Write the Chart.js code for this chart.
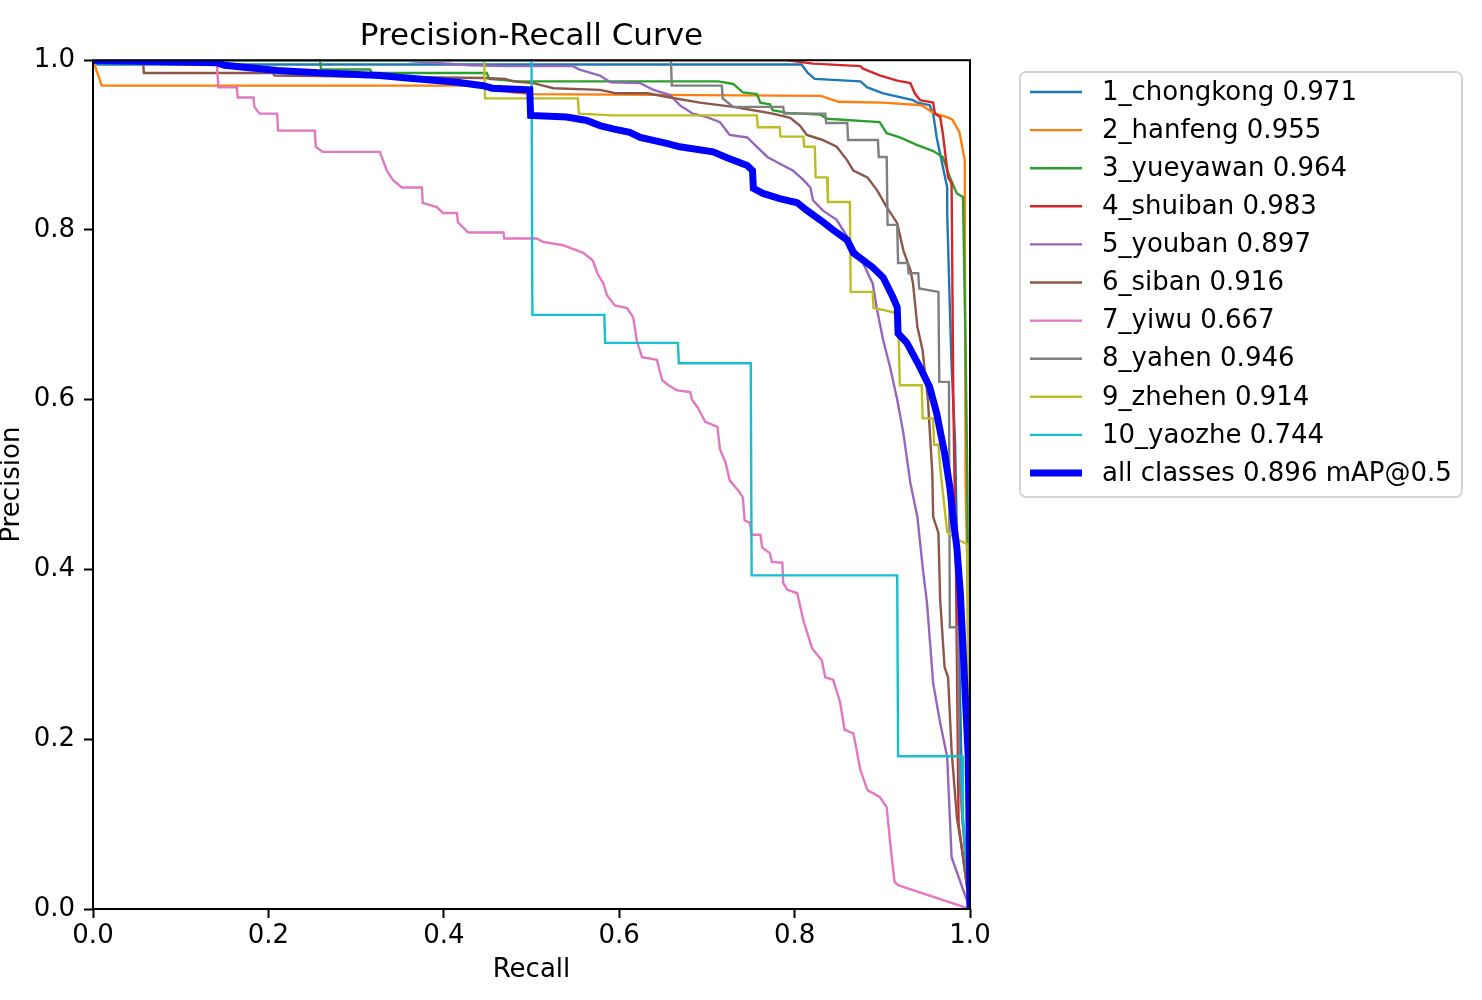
<!DOCTYPE html>
<html>
<head>
<meta charset="utf-8">
<script src="https://cdn.jsdelivr.net/npm/chart.js@4"></script>
<style>
html,body{margin:0;padding:0;background:#fff;}
</style>
</head>
<body>
<canvas id="prChart" width="1482" height="1000"></canvas>
<script>
// class names + AP values (legend)
const classNames = ["1_chongkong","2_hanfeng","3_yueyawan","4_shuiban","5_youban","6_siban","7_yiwu","8_yahen","9_zhehen","10_yaozhe"];
const apValues = [0.971, 0.955, 0.964, 0.983, 0.897, 0.916, 0.667, 0.946, 0.914, 0.744];
const mAP = 0.896;
const tickValues = [0, 0.2, 0.4, 0.6, 0.8, 1.0];

// [recall, precision]
const chongkong = [[0,1],[0.005,0.995],[0.808,0.995],[0.815,0.985],[0.823,0.978],[0.875,0.975],[0.883,0.968],[0.901,0.961],[0.905,0.96],[0.935,0.953],[0.94,0.95],[0.954,0.947],[0.958,0.937],[0.962,0.909],[0.974,0.85],[0.974,0.82],[0.977,0.71],[0.979,0.64],[0.983,0.55],[0.99,0.18],[0.991,0.11],[1.0,0]];
const hanfeng = [[0,1],[0.01,0.97],[0.433,0.97],[0.48,0.962],[0.5,0.96],[0.83,0.958],[0.85,0.951],[0.9,0.95],[0.945,0.947],[0.958,0.938],[0.974,0.933],[0.98,0.93],[0.988,0.915],[0.994,0.882],[0.995,0.5],[0.997,0.4],[1.0,0]];
const yueyawan = [[0,1],[0.259,1],[0.26,0.989],[0.316,0.989],[0.318,0.985],[0.449,0.985],[0.452,0.978],[0.485,0.975],[0.713,0.975],[0.73,0.972],[0.741,0.962],[0.757,0.96],[0.761,0.95],[0.772,0.948],[0.775,0.941],[0.791,0.938],[0.829,0.936],[0.837,0.931],[0.897,0.927],[0.905,0.914],[0.92,0.909],[0.94,0.9],[0.958,0.893],[0.969,0.886],[0.977,0.862],[0.985,0.843],[0.992,0.839],[0.995,0.66],[0.997,0.5],[1.0,0]];
const shuiban = [[0,1],[0.792,1],[0.821,0.996],[0.875,0.993],[0.878,0.99],[0.897,0.982],[0.917,0.976],[0.932,0.973],[0.937,0.961],[0.943,0.953],[0.958,0.95],[0.96,0.937],[0.966,0.933],[0.969,0.914],[0.975,0.862],[0.979,0.855],[0.981,0.6],[0.984,0.4],[0.987,0.1],[1.0,0]];
const youban = [[0,1],[0.359,1],[0.36,0.999],[0.43,0.994],[0.472,0.993],[0.547,0.993],[0.555,0.989],[0.578,0.982],[0.59,0.974],[0.624,0.973],[0.639,0.965],[0.658,0.959],[0.669,0.947],[0.684,0.937],[0.70,0.933],[0.715,0.927],[0.726,0.912],[0.746,0.909],[0.757,0.898],[0.769,0.886],[0.787,0.876],[0.798,0.87],[0.81,0.859],[0.818,0.85],[0.821,0.835],[0.832,0.823],[0.848,0.812],[0.86,0.792],[0.878,0.761],[0.889,0.737],[0.894,0.706],[0.901,0.67],[0.909,0.638],[0.917,0.6],[0.924,0.561],[0.932,0.502],[0.94,0.462],[0.946,0.403],[0.951,0.36],[0.958,0.266],[0.966,0.219],[0.974,0.179],[0.979,0.061],[1.0,0]];
const siban = [[0,1],[0.057,1],[0.058,0.985],[0.205,0.985],[0.207,0.982],[0.445,0.979],[0.47,0.978],[0.479,0.975],[0.502,0.973],[0.525,0.967],[0.578,0.965],[0.597,0.961],[0.632,0.961],[0.658,0.956],[0.692,0.95],[0.73,0.945],[0.753,0.941],[0.775,0.937],[0.795,0.932],[0.806,0.923],[0.814,0.912],[0.832,0.906],[0.848,0.898],[0.86,0.882],[0.867,0.87],[0.883,0.862],[0.894,0.847],[0.905,0.827],[0.917,0.808],[0.924,0.776],[0.932,0.753],[0.935,0.737],[0.94,0.686],[0.946,0.658],[0.952,0.6],[0.957,0.514],[0.958,0.462],[0.964,0.443],[0.966,0.364],[0.971,0.285],[0.975,0.273],[0.979,0.187],[0.985,0.108],[0.991,0.069],[1.0,0]];
const yiwu = [[0,1],[0.141,1],[0.143,0.968],[0.164,0.968],[0.165,0.956],[0.183,0.956],[0.184,0.945],[0.19,0.937],[0.21,0.937],[0.211,0.917],[0.253,0.917],[0.254,0.898],[0.262,0.892],[0.327,0.892],[0.335,0.87],[0.342,0.859],[0.352,0.85],[0.375,0.85],[0.376,0.832],[0.392,0.827],[0.399,0.82],[0.415,0.82],[0.416,0.809],[0.428,0.797],[0.468,0.797],[0.469,0.79],[0.506,0.79],[0.513,0.786],[0.536,0.782],[0.544,0.779],[0.559,0.773],[0.57,0.764],[0.575,0.749],[0.582,0.737],[0.586,0.723],[0.595,0.711],[0.609,0.708],[0.616,0.697],[0.62,0.67],[0.626,0.65],[0.643,0.647],[0.649,0.623],[0.656,0.617],[0.666,0.611],[0.681,0.609],[0.683,0.6],[0.69,0.59],[0.698,0.574],[0.712,0.568],[0.715,0.541],[0.721,0.527],[0.726,0.505],[0.735,0.494],[0.741,0.485],[0.743,0.458],[0.749,0.455],[0.751,0.441],[0.761,0.441],[0.763,0.426],[0.772,0.419],[0.774,0.409],[0.786,0.408],[0.787,0.384],[0.792,0.376],[0.803,0.372],[0.81,0.34],[0.82,0.307],[0.831,0.293],[0.835,0.273],[0.844,0.27],[0.852,0.243],[0.857,0.211],[0.867,0.207],[0.875,0.164],[0.883,0.14],[0.897,0.132],[0.905,0.12],[0.909,0.078],[0.914,0.032],[0.918,0.028],[1.0,0]];
const yahen = [[0,1],[0.659,1],[0.66,0.97],[0.717,0.97],[0.718,0.955],[0.73,0.945],[0.787,0.945],[0.788,0.937],[0.835,0.937],[0.836,0.926],[0.86,0.926],[0.861,0.906],[0.895,0.906],[0.896,0.886],[0.905,0.886],[0.906,0.806],[0.917,0.806],[0.918,0.761],[0.929,0.761],[0.93,0.749],[0.941,0.749],[0.942,0.731],[0.964,0.727],[0.965,0.621],[0.976,0.621],[0.977,0.332],[0.986,0.332],[0.988,0.15],[1.0,0]];
const zhehen = [[0,1],[0.446,1],[0.447,0.955],[0.553,0.955],[0.554,0.937],[0.593,0.935],[0.757,0.935],[0.758,0.921],[0.783,0.921],[0.784,0.91],[0.81,0.91],[0.811,0.898],[0.823,0.898],[0.824,0.862],[0.837,0.862],[0.838,0.833],[0.863,0.833],[0.864,0.727],[0.889,0.727],[0.89,0.708],[0.905,0.705],[0.912,0.703],[0.918,0.70],[0.92,0.617],[0.945,0.617],[0.946,0.578],[0.958,0.578],[0.959,0.547],[0.964,0.547],[0.966,0.52],[0.974,0.444],[0.986,0.435],[0.997,0.43],[1.0,0]];
const yaozhe = [[0,1],[0.5,1],[0.501,0.70],[0.583,0.70],[0.584,0.667],[0.667,0.667],[0.668,0.643],[0.75,0.643],[0.751,0.393],[0.917,0.393],[0.918,0.18],[0.991,0.18],[0.992,0.11],[1.0,0]];
const allClasses = [[0,1],[0.141,0.997],[0.15,0.994],[0.21,0.988],[0.262,0.985],[0.327,0.982],[0.358,0.979],[0.415,0.974],[0.445,0.97],[0.455,0.967],[0.498,0.965],[0.499,0.935],[0.54,0.933],[0.563,0.929],[0.578,0.923],[0.593,0.919],[0.612,0.915],[0.624,0.909],[0.654,0.902],[0.669,0.898],[0.707,0.892],[0.723,0.885],[0.746,0.876],[0.752,0.87],[0.753,0.849],[0.764,0.843],[0.783,0.837],[0.803,0.832],[0.814,0.823],[0.829,0.812],[0.844,0.8],[0.86,0.788],[0.867,0.773],[0.889,0.756],[0.901,0.744],[0.912,0.721],[0.917,0.709],[0.918,0.678],[0.928,0.667],[0.943,0.638],[0.954,0.615],[0.962,0.584],[0.971,0.537],[0.977,0.497],[0.981,0.458],[0.985,0.426],[0.989,0.372],[0.994,0.266],[0.998,0.179],[1.0,0]];

const curves = [chongkong, hanfeng, yueyawan, shuiban, youban, siban, yiwu, yahen, zhehen, yaozhe];
const lineColors = ['#1f77b4','#ff7f0e','#2ca02c','#d62728','#9467bd','#8c564b','#e377c2','#7f7f7f','#bcbd22','#17becf'];

const FONT = 'DejaVu Sans';
Chart.defaults.font.family = FONT;
Chart.defaults.color = '#000';

const datasets = curves.map((c, i) => ({
  label: classNames[i] + ' ' + apValues[i].toFixed(3),
  data: c.map(p => ({x: p[0], y: p[1]})),
  borderColor: lineColors[i],
  borderWidth: 2.4,
  order: 11 - i
}));
datasets.push({
  label: 'all classes ' + mAP.toFixed(3) + ' mAP@0.5',
  data: allClasses.map(p => ({x: p[0], y: p[1]})),
  borderColor: '#0000ff',
  borderWidth: 7,
  order: 0
});

// box round the plot + the legend on the right
const extras = {
  id: 'extras',
  afterDatasetsDraw(chart) {
    const {ctx, chartArea: a} = chart;
    ctx.save();
    ctx.strokeStyle = '#000';
    ctx.lineWidth = 2;
    ctx.strokeRect(a.left, a.top, a.right - a.left, a.bottom - a.top);
    ctx.restore();
  },
  afterDraw(chart) {
    const ctx = chart.ctx;
    const ds = chart.data.datasets;
    const bx = 1020, by = 72, bw = 442, bh = 425;
    ctx.save();
    ctx.beginPath();
    ctx.roundRect(bx, by, bw, bh, 6);
    ctx.fillStyle = 'rgba(255,255,255,0.8)';
    ctx.fill();
    ctx.strokeStyle = '#d4d4d4';
    ctx.lineWidth = 2;
    ctx.stroke();
    ctx.font = '26px "' + FONT + '"';
    ctx.textBaseline = 'middle';
    ds.forEach((d, i) => {
      const y = 92 + i * 38.1;
      ctx.beginPath();
      ctx.moveTo(1030, y);
      ctx.lineTo(1082, y);
      ctx.strokeStyle = d.borderColor;
      ctx.lineWidth = d.borderWidth;
      ctx.stroke();
      ctx.fillStyle = '#000';
      ctx.fillText(d.label, 1102, y + 1);
    });
    ctx.restore();
  }
};

new Chart(document.getElementById('prChart'), {
  type: 'line',
  data: {datasets},
  plugins: [extras],
  options: {
    responsive: false,
    animation: false,
    devicePixelRatio: 1,
    layout: {padding: {left: 0, right: 512, top: 0, bottom: 0}},
    elements: {point: {radius: 0}, line: {tension: 0}},
    plugins: {
      legend: {display: false},
      tooltip: {enabled: false},
      title: {
        display: true,
        text: 'Precision-Recall Curve',
        fullSize: false,
        font: {size: 31, weight: 'normal'},
        padding: {top: 18, bottom: 5},
        color: '#000'
      }
    },
    scales: {
      x: {
        type: 'linear',
        min: 0, max: 1,
        afterBuildTicks: s => { s.ticks = tickValues.map(v => ({value: v})); },
        afterFit: s => { s.height = 91; },
        ticks: {font: {size: 26}, padding: 3, maxRotation: 0, callback: v => v.toFixed(1)},
        grid: {drawOnChartArea: false, drawTicks: true, tickLength: 9, tickWidth: 2, color: '#000'},
        border: {display: false},
        title: {display: true, text: 'Recall', font: {size: 26}, padding: 14}
      },
      y: {
        type: 'linear',
        min: 0, max: 1,
        afterBuildTicks: s => { s.ticks = tickValues.map(v => ({value: v})); },
        afterFit: s => { s.width = 93; },
        ticks: {font: {size: 26}, padding: 9, callback: v => v.toFixed(1)},
        grid: {drawOnChartArea: false, drawTicks: true, tickLength: 9, tickWidth: 2, color: '#000'},
        border: {display: false},
        title: {display: true, text: 'Precision', font: {size: 26}, padding: -3}
      }
    }
  }
});
</script>
</body>
</html>
